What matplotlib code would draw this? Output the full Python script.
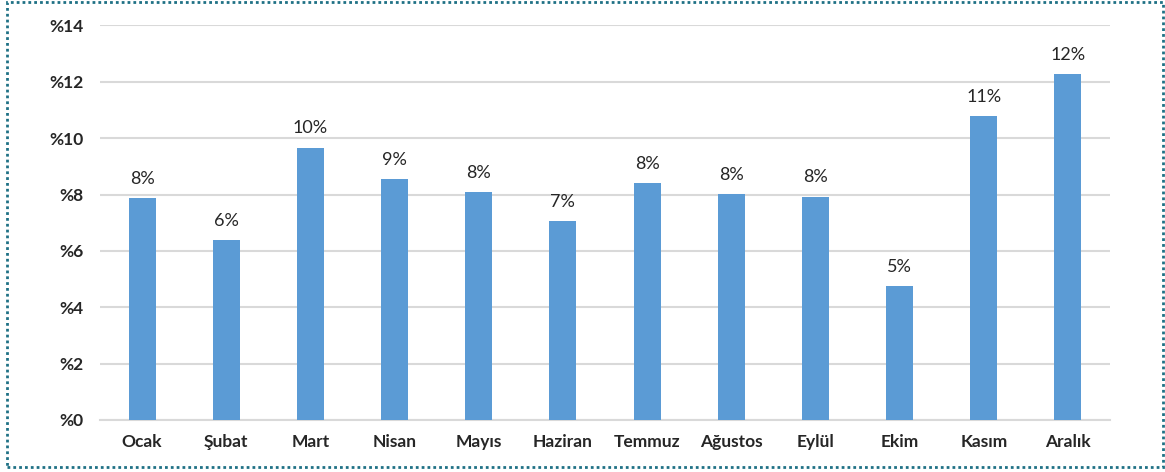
import matplotlib.pyplot as plt
from matplotlib.patches import Rectangle

months = ['Ocak', 'Şubat', 'Mart', 'Nisan', 'Mayıs', 'Haziran', 'Temmuz',
          'Ağustos', 'Eylül', 'Ekim', 'Kasım', 'Aralık']
values = [7.88, 6.39, 9.67, 8.56, 8.09, 7.06, 8.42, 8.02, 7.93, 4.74, 10.8, 12.29]
yticks = [0, 2, 4, 6, 8, 10, 12, 14]

plt.rcParams['font.family'] = ['Lato', 'DejaVu Sans']

fig = plt.figure(figsize=(11.65, 4.72), dpi=100)
ax = fig.add_axes([0.0858, 0.1102, 0.8670, 0.8358])

x = range(len(months))
bars = ax.bar(x, values, width=0.32, color='#5B9BD5', zorder=3)

for b, v in zip(bars, values):
    ax.annotate(f'{v:.0f}%', (b.get_x() + b.get_width() / 2, v),
                xytext=(0, 8), textcoords='offset points',
                ha='center', va='bottom', fontsize=13, color='#262626')

ax.set_xlim(-0.5, len(months) - 0.5)
ax.set_ylim(0, 14)
ax.set_yticks(yticks)
ax.set_yticklabels([f'%{t}' for t in yticks])
ax.set_xticks(list(x))
ax.set_xticklabels(months)
ax.grid(axis='y', color='#D9D9D9', linewidth=1.5, zorder=0)
for s in ['top', 'right', 'left']:
    ax.spines[s].set_visible(False)
ax.spines['bottom'].set_color('#D9D9D9')
ax.spines['bottom'].set_linewidth(1.5)
ax.tick_params(length=0, labelsize=12.5, labelcolor='#262626')
ax.tick_params(axis='y', pad=12)
ax.tick_params(axis='x', pad=10)
for lbl in ax.get_xticklabels() + ax.get_yticklabels():
    lbl.set_fontweight('bold')

border = Rectangle((7 / 1165, 5 / 472), 1156 / 1165, 465 / 472,
                   transform=fig.transFigure, fill=False,
                   edgecolor='#1F7185', linewidth=2, linestyle=(0, (1, 1.1)))
fig.patches.append(border)

fig.savefig('out.png', dpi=100)
